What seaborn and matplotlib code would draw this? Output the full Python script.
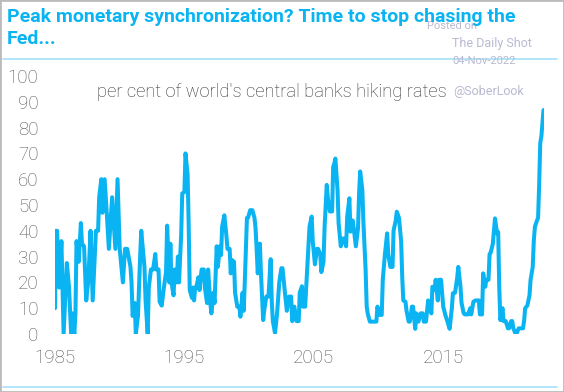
import pandas as pd
import matplotlib.pyplot as plt
import matplotlib.dates as mdates
from matplotlib.lines import Line2D
from matplotlib.patches import Rectangle
import seaborn as sns

# data (month, % of central banks hiking)
months = [
    "1985-01", "1985-02", "1985-03", "1985-05", "1985-07", "1985-08", "1985-09", "1985-12",
    "1986-02", "1986-04", "1986-05", "1986-07", "1986-08", "1986-09", "1986-11",
    "1987-01", "1987-02", "1987-04", "1987-06", "1987-08", "1987-10", "1987-12",
    "1988-03", "1988-05", "1988-06", "1988-08", "1988-09", "1988-11",
    "1989-01", "1989-03", "1989-06", "1989-09", "1989-11",
    "1990-01", "1990-04", "1990-06", "1990-08", "1990-11", "1990-12",
    "1991-01", "1991-03", "1991-04", "1991-06", "1991-08", "1991-09", "1991-12",
    "1992-01", "1992-03", "1992-04", "1992-06", "1992-08", "1992-10", "1992-11",
    "1993-01", "1993-02", "1993-04", "1993-06", "1993-08", "1993-09", "1993-11", "1993-12",
    "1994-01", "1994-03", "1994-04", "1994-06", "1994-07", "1994-08", "1994-10", "1994-11",
    "1995-01", "1995-02", "1995-04", "1995-05", "1995-06", "1995-08", "1995-09", "1995-10",
    "1995-11", "1995-12",
    "1996-02", "1996-03", "1996-05", "1996-07", "1996-08", "1996-10", "1996-11",
    "1997-01", "1997-02", "1997-04", "1997-05", "1997-07", "1997-08", "1997-10", "1997-11",
    "1997-12",
    "1998-02", "1998-04", "1998-05", "1998-07", "1998-08", "1998-09", "1998-11", "1998-12",
    "1999-02", "1999-04", "1999-05", "1999-07", "1999-08", "1999-09", "1999-11", "1999-12",
    "2000-02", "2000-04", "2000-06", "2000-07", "2000-08", "2000-09", "2000-11", "2000-12",
    "2001-02", "2001-03", "2001-05", "2001-07", "2001-09", "2001-10", "2001-11",
    "2002-01", "2002-03", "2002-05", "2002-07", "2002-08", "2002-10", "2002-12",
    "2003-02", "2003-04", "2003-05", "2003-07", "2003-09", "2003-11", "2003-12",
    "2004-02", "2004-03", "2004-05", "2004-07", "2004-09", "2004-11", "2004-12",
    "2005-02", "2005-04", "2005-05", "2005-07", "2005-08", "2005-10", "2005-11",
    "2006-01", "2006-02", "2006-04", "2006-06", "2006-07", "2006-08", "2006-09", "2006-11",
    "2006-12",
    "2007-02", "2007-04", "2007-05", "2007-07", "2007-08", "2007-10", "2007-11",
    "2008-01", "2008-02", "2008-04", "2008-06", "2008-07", "2008-08", "2008-10", "2008-11",
    "2009-01", "2009-02", "2009-03", "2009-05", "2009-11", "2009-12",
    "2010-02", "2010-04", "2010-05", "2010-07", "2010-09", "2010-10", "2010-12",
    "2011-02", "2011-03", "2011-05", "2011-06", "2011-08", "2011-10", "2011-11", "2011-12",
    "2012-02", "2012-03", "2012-05", "2012-06", "2012-08", "2012-09", "2012-11", "2012-12",
    "2013-02", "2013-04", "2013-06", "2013-07", "2013-09", "2013-11", "2013-12",
    "2014-02", "2014-03", "2014-05", "2014-06", "2014-08", "2014-09", "2014-11",
    "2015-01", "2015-03", "2015-05", "2015-07", "2015-09", "2015-10", "2015-12",
    "2016-02", "2016-03", "2016-05", "2016-06", "2016-08", "2016-09", "2016-12",
    "2017-02", "2017-03", "2017-05", "2017-07", "2017-10", "2017-11",
    "2018-01", "2018-02", "2018-04", "2018-05", "2018-07", "2018-08", "2018-09", "2018-11",
    "2019-01", "2019-03", "2019-04", "2019-05", "2019-06", "2019-08", "2019-09", "2019-11",
    "2020-01", "2020-02", "2020-04", "2020-05", "2020-06", "2020-08", "2020-09", "2020-11",
    "2021-03", "2021-04", "2021-05", "2021-07", "2021-09", "2021-10", "2021-12",
    "2022-01", "2022-02", "2022-04", "2022-05", "2022-06", "2022-07", "2022-08", "2022-10",
]
hiking = [
    10, 40, 40, 18, 36, 18, 0, 27.5,
    18, 0, 8, 0, 8, 36, 28,
    43, 35, 34, 13, 21, 40, 13,
    40, 40, 53, 60, 47, 60,
    47, 33, 53, 33, 60,
    33, 20, 33, 33, 26, 20,
    7, 12, 0, 7, 30, 40, 26,
    13, 0, 18, 25, 25, 31, 25,
    25, 12.5, 11, 18, 24, 42, 20, 35,
    20, 15, 25, 20, 30, 20, 38, 54.5,
    55, 70, 62, 43, 17, 14, 18, 13,
    18, 18,
    22, 17, 25, 25, 18, 12, 25,
    12, 8, 16, 12, 34, 26, 34, 30.6,
    41.6,
    46, 38, 33, 33, 23.5, 28.7, 28, 16,
    10.6, 10.6, 6.7, 16, 9, 20, 45, 45,
    48, 48, 45, 41, 33, 23.5, 35, 23.5,
    5.4, 9, 14.5, 14.5, 29, 13, 5,
    0.4, 8, 20, 25.5, 25.5, 17, 9,
    14.5, 14.5, 5, 10.6, 5, 5, 16,
    18.5, 10.6, 10.6, 26, 41.6, 45.5, 36,
    27, 33, 33, 31, 24, 28, 41.6,
    57.8, 52.6, 47.5, 47.5, 64.8, 66, 68, 55.8,
    43,
    34, 37, 37, 34, 45.5, 52.6, 39.7,
    44, 41, 34, 41, 54.5, 63, 55.8, 43,
    25, 10.6, 8, 4.8, 4.8, 10.6,
    7.4, 7.4, 21, 31, 39, 31, 26,
    26, 40, 44, 47.4, 45, 36, 22, 13,
    12.5, 9, 4.8, 4.8, 10.6, 10.6, 2, 8,
    4.8, 8, 8, 4.8, 4.8, 13, 11,
    8, 18.3, 17, 21, 13, 21, 21,
    10.6, 7.4, 4.8, 2, 10, 15.8, 16,
    22, 26, 18.5, 12, 8, 7.6, 7.6,
    10, 7.6, 12.5, 13, 13, 7.6,
    7.6, 23.5, 18.3, 21, 21, 31, 31.5, 35,
    44.8, 39, 39.5, 18.3, 5.4, 10, 5, 5,
    2.2, 2.2, 5, 5, 2.2, 0.2, 0.2, 2.2,
    2.2, 5, 10, 11, 15, 21, 26,
    36.4, 41.6, 44, 45, 58, 74, 76.5, 86.8,
]
tick_years = ["1985", "1995", "2005", "2015"]
y_ticks = list(range(0, 101, 10))

df = pd.DataFrame({"date": pd.to_datetime(months), "pct": hiking})

sns.set_style("white")
plt.rcParams["font.family"] = ["Roboto", "DejaVu Sans"]

blue = "#0AB4F2"
W, H = 564, 392
fig = plt.figure(figsize=(W / 100, H / 100), dpi=100)
ax = fig.add_axes([55 / W, (H - 334) / H, (543.5 - 55) / W, (334 - 76) / H])

sns.lineplot(data=df, x="date", y="pct", ax=ax, color=blue, linewidth=2.9)

ax.set_xlim(df["date"].min(), df["date"].max())
ax.set_ylim(0, 100)
ax.set_yticks(y_ticks)
ax.set_xticks(pd.to_datetime(tick_years))
ax.xaxis.set_major_formatter(mdates.DateFormatter("%Y"))
ax.tick_params(axis="both", length=0, labelsize=13.5, labelcolor="#555555")
ax.tick_params(axis="y", pad=12)
ax.tick_params(axis="x", pad=11)
for lab in ax.get_xticklabels() + ax.get_yticklabels():
    lab.set_fontweight("light")
ax.set_xlabel("")
ax.set_ylabel("")
sns.despine(ax=ax, left=True, bottom=True)
ax.grid(False)

# watermark first so the title sits on top of it
wm = "#B9B9D2"
fig.text(427 / W, 1 - 26 / H, "Posted on", color=wm, fontsize=8, ha="left", va="center")
fig.text(452 / W, 1 - 43 / H, "The Daily Shot", color=wm, fontsize=9, ha="left", va="center")
fig.text(452 / W, 1 - 61 / H, "04-Nov-2022", color=wm, fontsize=8, ha="left", va="center")
fig.text(453 / W, 1 - 91 / H, "@SoberLook", color=wm, fontsize=9, ha="left", va="center")

fig.text(7 / W, 1 - 8 / H, "Peak monetary synchronization? Time to stop chasing the\nFed...",
         color=blue, fontsize=14, fontweight="bold", ha="left", va="top", linespacing=1.3)
fig.text(97 / W, 1 - 92 / H, "per cent of world's central banks hiking rates",
         color="#333333", fontsize=13.2, fontweight="light", ha="left", va="center")

rule = "#A6E2F8"
for yy in (59, 387):
    fig.add_artist(Line2D([3 / W, 557 / W], [1 - yy / H] * 2, color=rule, lw=1.2,
                          transform=fig.transFigure))
fig.add_artist(Rectangle((0, 0), 1, 1, transform=fig.transFigure, fill=False,
                         edgecolor="#BBBBBB", lw=2))

fig.savefig("out.png", dpi=100)
